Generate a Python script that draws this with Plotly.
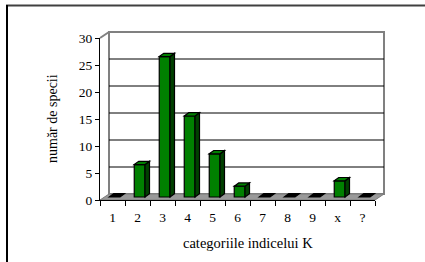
import plotly.graph_objects as go

# ---- data ----
categories = ["1", "2", "3", "4", "5", "6", "7", "8", "9", "x", "?"]
counts = [0, 6, 26, 15, 8, 2, 0, 0, 0, 3, 0]
y_ticks = [0, 5, 10, 15, 20, 25, 30]
y_title = "număr de specii"
x_title = "categoriile indicelui K"

# ---- geometry ----
W, H = 425, 262
L, R, T, B = 100, 50, 38, 62
PW, PH = W - L - R, H - T - B
XR = (-0.5, len(categories) - 0.5)
YR = (0, 30)
FONT = "Liberation Serif, Times New Roman, serif"


def px(xp):  # pixel -> paper x
    return (xp - L) / PW


def py(yp):  # pixel -> paper y
    return (H - B - yp) / PH


def dx(xd):  # data -> paper x
    return (xd - XR[0]) / (XR[1] - XR[0])


def dy(yd):  # data -> paper y
    return (yd - YR[0]) / (YR[1] - YR[0])


# depth offsets (pixels)
WALL_DX, WALL_DY = 9, 6
BAR_DX, BAR_DY = 4.5, 3.3
BASE = 3.0 / (PH / (YR[1] - YR[0]))  # bars stand mid-depth on the floor
BAR_W, BAR_OFF = 0.43, -0.13

wdx, wdy = WALL_DX / PW, WALL_DY / PH
bdx, bdy = BAR_DX / PW, BAR_DY / PH

shapes = []
# back wall
x0, x1 = dx(XR[0]) + wdx, dx(XR[1]) + wdx
y0, y1 = dy(YR[0]) + wdy, dy(YR[1]) + wdy
shapes.append(dict(type="rect", xref="paper", yref="paper", x0=x0, x1=x1, y0=y0, y1=y1,
                   fillcolor="white", line=dict(color="#808080", width=2), layer="below"))
# left wall edges
shapes.append(dict(type="line", xref="paper", yref="paper", x0=dx(XR[0]), y0=dy(YR[1]),
                   x1=x0, y1=y1, line=dict(color="#808080", width=2), layer="below"))
# gridlines on back wall
for v in y_ticks[1:-1]:
    shapes.append(dict(type="line", xref="paper", yref="paper", x0=x0, x1=x1,
                       y0=dy(v) + wdy, y1=dy(v) + wdy,
                       line=dict(color="#000000", width=1), layer="below"))
# floor
fp = (f"M {dx(XR[0])},{dy(0)} L {dx(XR[1])},{dy(0)} L {x1},{y0} L {x0},{y0} Z")
shapes.append(dict(type="path", xref="paper", yref="paper", path=fp,
                   fillcolor="#999999", line=dict(color="#7a7a7a", width=1), layer="below"))

# 3-D bar sides and tops
for i, v in enumerate(counts):
    xl = dx(i + BAR_OFF)
    xr = dx(i + BAR_OFF + BAR_W)
    yb = dy(BASE)
    yt = dy(BASE + v)
    if v > 0:
        side = (f"M {xr},{yb} L {xr + bdx},{yb + bdy} L {xr + bdx},{yt + bdy} "
                f"L {xr},{yt} Z")
        shapes.append(dict(type="path", xref="paper", yref="paper", path=side,
                           fillcolor="#004000", line=dict(color="black", width=1.2)))
        topc = "#008000"
    else:
        topc = "#000000"
    top = (f"M {xl},{yt} L {xl + bdx},{yt + bdy} L {xr + bdx},{yt + bdy} "
           f"L {xr},{yt} Z")
    shapes.append(dict(type="path", xref="paper", yref="paper", path=top,
                       fillcolor=topc, line=dict(color="black", width=1.2)))

# outer frame (top and left only)
shapes.append(dict(type="line", xref="paper", yref="paper", x0=px(6), x1=px(425),
                   y0=py(5.5), y1=py(5.5), line=dict(color="#404040", width=2)))
shapes.append(dict(type="line", xref="paper", yref="paper", x0=px(7), x1=px(7),
                   y0=py(5), y1=py(262), line=dict(color="#000000", width=2)))

fig = go.Figure()
fig.add_trace(go.Bar(
    x=categories, y=[c if c > 0 else None for c in counts], base=BASE,
    width=BAR_W, offset=BAR_OFF,
    marker=dict(color="#008000", line=dict(color="black", width=1.2)),
    showlegend=False, hoverinfo="skip",
))

fig.update_layout(
    width=W, height=H,
    margin=dict(l=L, r=R, t=T, b=B, autoexpand=False),
    paper_bgcolor="white", plot_bgcolor="rgba(0,0,0,0)",
    font=dict(family=FONT, size=13, color="black"),
    shapes=shapes,
    xaxis=dict(type="category", range=list(XR), showgrid=False, zeroline=False,
               showline=True, linecolor="black", linewidth=1, automargin=False,
               ticks="outside", tickson="boundaries", ticklen=5, tickcolor="black",
               ticklabelstandoff=5,
               tickfont=dict(family=FONT, size=13.5)),
    yaxis=dict(range=list(YR), tickvals=y_ticks, showgrid=False, zeroline=False,
               showline=True, linecolor="black", linewidth=1, automargin=False,
               ticks="outside", ticklen=4, tickcolor="black",
               tickfont=dict(family=FONT, size=13.5)),
    annotations=[
        dict(text=y_title, xref="paper", yref="paper", x=px(52), y=py(118),
             xanchor="center", yanchor="middle", textangle=-90, showarrow=False,
             font=dict(family=FONT, size=14)),
        dict(text=x_title, xref="paper", yref="paper", x=px(248), y=py(243),
             xanchor="center", yanchor="middle", showarrow=False,
             font=dict(family=FONT, size=14.5)),
    ],
)

fig.write_html("out.html", config={"displayModeBar": False, "staticPlot": True},
               post_script="document.body.style.margin='0px';")
